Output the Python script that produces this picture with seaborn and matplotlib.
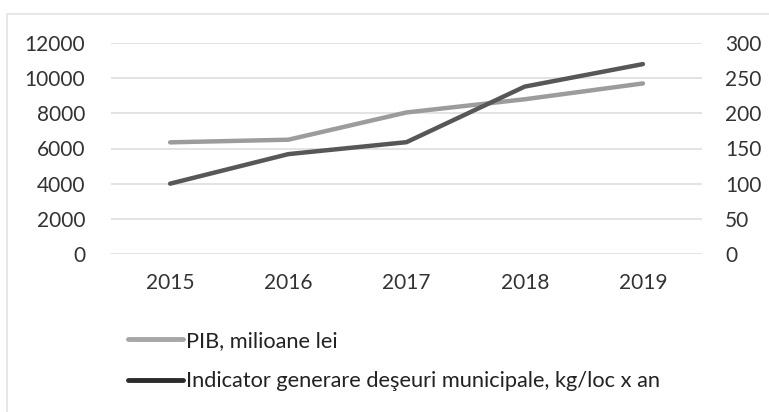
import matplotlib
matplotlib.use("Agg")
import matplotlib.pyplot as plt
from matplotlib.lines import Line2D
from matplotlib.patches import Rectangle
import seaborn as sns
import pandas as pd

years = ["2015", "2016", "2017", "2018", "2019"]
pib = [6350, 6500, 8050, 8800, 9700]          # PIB, milioane lei
deseuri = [100, 142, 159, 238, 270]           # kg/loc x an

left_ticks = [0, 2000, 4000, 6000, 8000, 10000, 12000]
right_ticks = [0, 50, 100, 150, 200, 250, 300]

label_pib = "PIB, milioane lei"
label_des = "Indicator generare deşeuri municipale, kg/loc x an"

sns.set_theme(style="white")
plt.rcParams["font.family"] = ["Lato", "DejaVu Sans"]

df = pd.DataFrame({"pos": range(len(years)), "pib": pib, "deseuri": deseuri})

W, H = 769, 412
fig = plt.figure(figsize=(W / 100, H / 100), dpi=100)
ax = fig.add_axes([111 / W, 1 - 254 / H, (702 - 111) / W, (254 - 43) / H])
ax2 = ax.twinx()

c_pib = "#9c9c9c"
c_des = "#575757"

sns.lineplot(data=df, x="pos", y="pib", ax=ax, color=c_pib, linewidth=3.2,
             legend=False, zorder=3)
sns.lineplot(data=df, x="pos", y="deseuri", ax=ax2, color=c_des, linewidth=3.2,
             legend=False, zorder=3)

fs = 15
for a in (ax, ax2):
    for s in a.spines.values():
        s.set_visible(False)
    a.set_xlabel("")
    a.set_ylabel("")
    a.tick_params(length=0, labelsize=fs, colors="#333333")

ax.set_xlim(-0.5, len(years) - 0.5)
ax.set_xticks(range(len(years)))
ax.set_xticklabels(years)
ax.tick_params(axis="x", pad=14)
ax.set_ylim(0, 12000)
ax.set_yticks(left_ticks)
ax.set_yticklabels([str(v) for v in left_ticks])
ax.tick_params(axis="y", pad=18.5)
ax2.set_ylim(0, 300)
ax2.set_yticks(right_ticks)
ax2.set_yticklabels([str(v) for v in right_ticks])
ax2.tick_params(axis="y", pad=16.5)

ax.grid(axis="y", color="#dedede", linewidth=1.2)
ax.grid(axis="x", visible=False)
ax2.grid(False)

handles = [Line2D([], [], color="#a6a6a6", linewidth=3.5),
           Line2D([], [], color="#2b2b2b", linewidth=3.5)]
fig.legend(handles, [label_pib, label_des], loc="upper left",
           bbox_to_anchor=(119 / W, 1 - 322 / H), frameon=False,
           fontsize=15.7, handlelength=2.55, handletextpad=0.1,
           labelspacing=0.95, borderaxespad=0, labelcolor="#222222")

# faint outer frame
fig.add_artist(Rectangle((7 / W, -0.05), 1.1, 1 - 14 / H + 0.05,
                         transform=fig.transFigure, fill=False,
                         edgecolor="#e3e3e3", linewidth=1.2))

fig.savefig("out.png", dpi=100)
